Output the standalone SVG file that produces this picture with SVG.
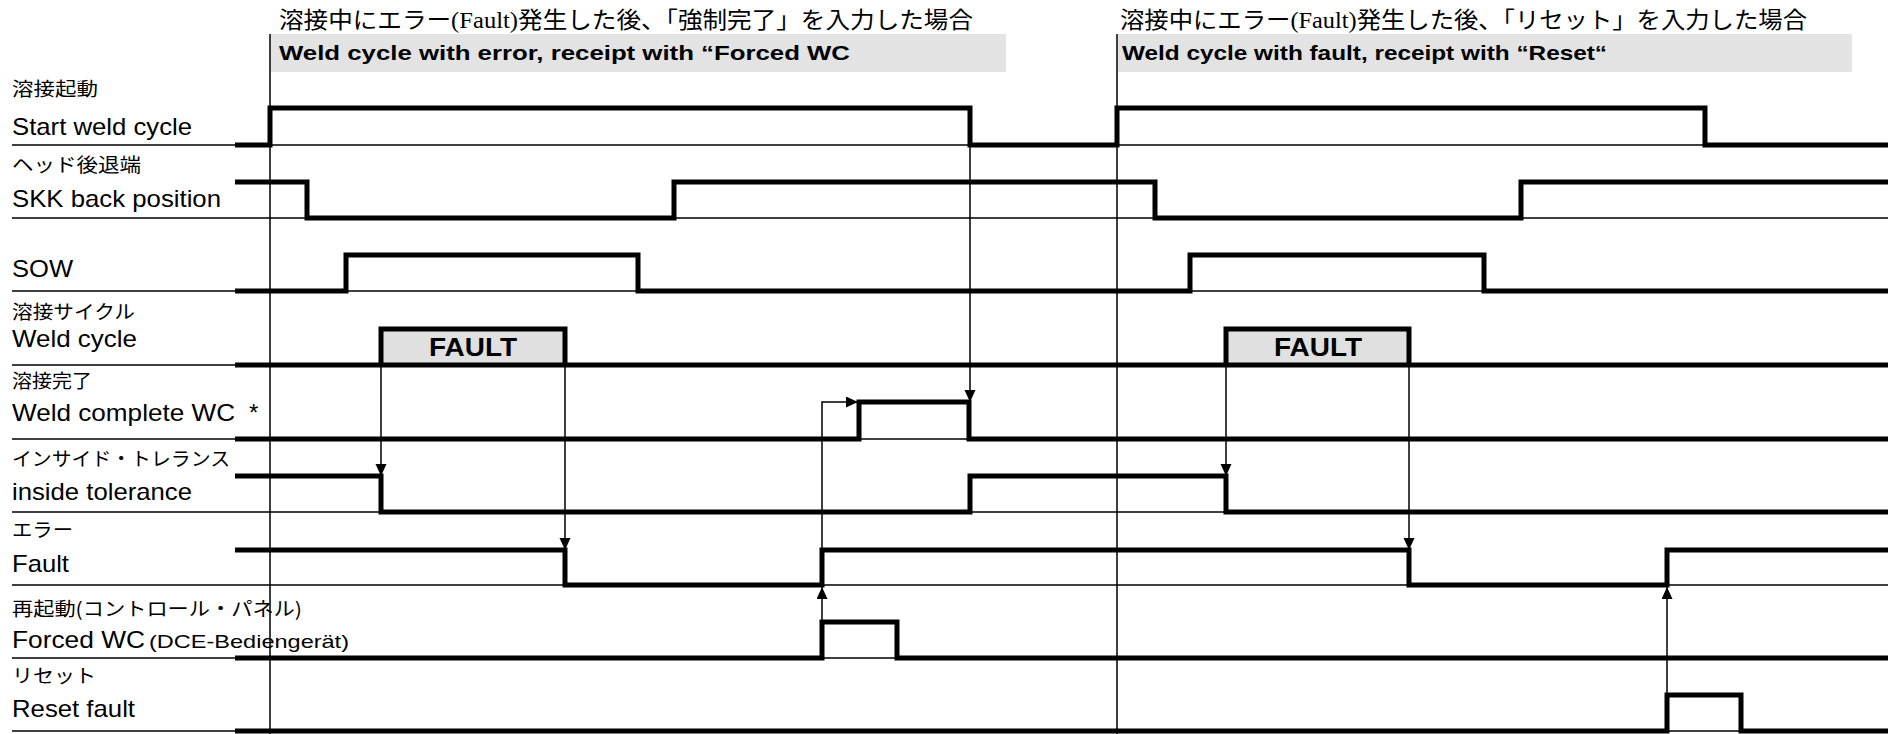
<svg xmlns="http://www.w3.org/2000/svg" width="1892" height="734" viewBox="0 0 1892 734">
<defs>
<style>
.sig{fill:none;stroke:#000;stroke-width:5;stroke-linejoin:miter;stroke-linecap:butt}
.base{fill:none;stroke:#000;stroke-width:1.5}
.vline{fill:none;stroke:#000;stroke-width:1.5}
.conn{fill:none;stroke:#000;stroke-width:1.5}
.en{font-family:"Liberation Sans",Arial,sans-serif;font-size:24px;fill:#000}
.enS{font-family:"Liberation Sans",Arial,sans-serif;font-size:19px;fill:#000}
.jp{font-family:"Noto Sans CJK JP","Noto Sans CJK SC",sans-serif;font-size:19px;fill:#000}
.title{font-family:"Noto Sans CJK JP","Noto Sans CJK SC",sans-serif;font-size:23px;fill:#000}
.ser{font-family:"Liberation Serif","Times New Roman",serif}
.ban{font-family:"Liberation Sans",Arial,sans-serif;font-size:21px;font-weight:bold;fill:#000}
.banbg{fill:#e3e3e3}
.ftxt{font-family:"Liberation Sans",Arial,sans-serif;font-size:25px;font-weight:bold;fill:#000}
</style>
<marker id="ah" markerUnits="userSpaceOnUse" markerWidth="13" markerHeight="12" refX="12" refY="5.5" orient="auto">
<path d="M0,0 L12,5.5 L0,11 Z" fill="#000"/>
</marker>
</defs>
<rect width="1892" height="734" fill="#fff"/>

<g id="header1">
<rect class="banbg" x="271" y="34" width="735" height="38"/>
<text class="title" x="279" y="28" textLength="694" lengthAdjust="spacingAndGlyphs">溶接中にエラー<tspan class="ser">(Fault)</tspan>発生した後、「強制完了」を入力した場合</text>
<text class="ban" x="279" y="60" textLength="571" lengthAdjust="spacingAndGlyphs">Weld cycle with error, receipt with “Forced WC</text>
</g>
<g id="header2">
<rect class="banbg" x="1118" y="34" width="734" height="38"/>
<text class="title" x="1120" y="28" textLength="687" lengthAdjust="spacingAndGlyphs">溶接中にエラー<tspan class="ser">(Fault)</tspan>発生した後、「リセット」を入力した場合</text>
<text class="ban" x="1122" y="60" textLength="485" lengthAdjust="spacingAndGlyphs">Weld cycle with fault, receipt with “Reset“</text>
</g>

<g id="baselines">
<path class="base" d="M12,145H1888M12,218H1888M12,291H1888M12,365H1888M12,439H1888M12,512H1888M12,585H1888M12,658H1888M12,731H1888"/>
</g>

<g id="cursors">
<path class="vline" d="M270,34V734M1117,34V734"/>
</g>

<g id="start-weld-cycle">
<text class="jp" x="12" y="96" textLength="86" lengthAdjust="spacingAndGlyphs">溶接起動</text>
<text class="en" x="12" y="135" textLength="180" lengthAdjust="spacingAndGlyphs">Start weld cycle</text>
<path class="sig" d="M235,145H270V108H970V145H1117V108H1705V145H1888"/>
</g>

<g id="skk-back-position">
<text class="jp" x="12" y="172" textLength="129" lengthAdjust="spacingAndGlyphs">ヘッド後退端</text>
<text class="en" x="12" y="207" textLength="209" lengthAdjust="spacingAndGlyphs">SKK back position</text>
<path class="sig" d="M235,182H307V218H674V182H1155V218H1521V182H1888"/>
</g>

<g id="sow">
<text class="en" x="12" y="277" textLength="61" lengthAdjust="spacingAndGlyphs">SOW</text>
<path class="sig" d="M235,291H346V255H638V291H1190V255H1484V291H1888"/>
</g>

<g id="weld-cycle">
<text class="jp" x="12" y="319" textLength="123" lengthAdjust="spacingAndGlyphs">溶接サイクル</text>
<text class="en" x="12" y="347" textLength="125" lengthAdjust="spacingAndGlyphs">Weld cycle</text>
<rect x="381" y="329" width="184" height="36" fill="#e0e0e0"/>
<rect x="1226" y="329" width="183" height="36" fill="#e0e0e0"/>
<path class="sig" d="M381,365V329H565V365M1226,365V329H1409V365"/>
<path class="sig" d="M235,365H1888"/>
<text class="ftxt" x="473" y="356" text-anchor="middle" textLength="88" lengthAdjust="spacingAndGlyphs">FAULT</text>
<text class="ftxt" x="1318" y="356" text-anchor="middle" textLength="88" lengthAdjust="spacingAndGlyphs">FAULT</text>
</g>

<g id="weld-complete">
<text class="jp" x="12" y="388" textLength="80" lengthAdjust="spacingAndGlyphs">溶接完了</text>
<text class="en" x="12" y="421" textLength="223" lengthAdjust="spacingAndGlyphs">Weld complete WC</text>
<text class="en" x="249" y="421">*</text>
<path class="sig" d="M235,439H859V402H969V439H1888"/>
</g>

<g id="inside-tolerance">
<text class="jp" x="12" y="466" textLength="218" lengthAdjust="spacingAndGlyphs">インサイド・トレランス</text>
<text class="en" x="12" y="500" textLength="180" lengthAdjust="spacingAndGlyphs">inside tolerance</text>
<path class="sig" d="M235,476H381V512H970V476H1226V512H1888"/>
</g>

<g id="fault">
<text class="jp" x="12" y="537" textLength="61" lengthAdjust="spacingAndGlyphs">エラー</text>
<text class="en" x="12" y="572" textLength="57" lengthAdjust="spacingAndGlyphs">Fault</text>
<path class="sig" d="M235,550H565V585H822V550H1409V585H1667V550H1888"/>
</g>

<g id="forced-wc">
<text class="jp" x="12" y="616" textLength="290" lengthAdjust="spacingAndGlyphs">再起動(コントロール・パネル)</text>
<text class="en" x="12" y="648" textLength="133" lengthAdjust="spacingAndGlyphs">Forced WC</text>
<text class="enS" x="149" y="648" textLength="200" lengthAdjust="spacingAndGlyphs">(DCE-Bediengerät)</text>
<path class="sig" d="M235,658H822V622H897V658H1888"/>
</g>

<g id="reset-fault">
<text class="jp" x="12" y="683" textLength="84" lengthAdjust="spacingAndGlyphs">リセット</text>
<text class="en" x="12" y="717" textLength="123" lengthAdjust="spacingAndGlyphs">Reset fault</text>
<path class="sig" d="M235,731H1667V695H1741V731H1888"/>
</g>

<g id="connectors">
<path class="conn" d="M381,365V476" marker-end="url(#ah)"/>
<path class="conn" d="M565,365V550" marker-end="url(#ah)"/>
<path class="conn" d="M1226,365V476" marker-end="url(#ah)"/>
<path class="conn" d="M1409,365V550" marker-end="url(#ah)"/>
<path class="conn" d="M970,145V402" marker-end="url(#ah)"/>
<path class="conn" d="M822,622V587" marker-end="url(#ah)"/>
<path class="conn" d="M822,550V402H858" marker-end="url(#ah)"/>
<path class="conn" d="M1667,695V587" marker-end="url(#ah)"/>
</g>
</svg>
